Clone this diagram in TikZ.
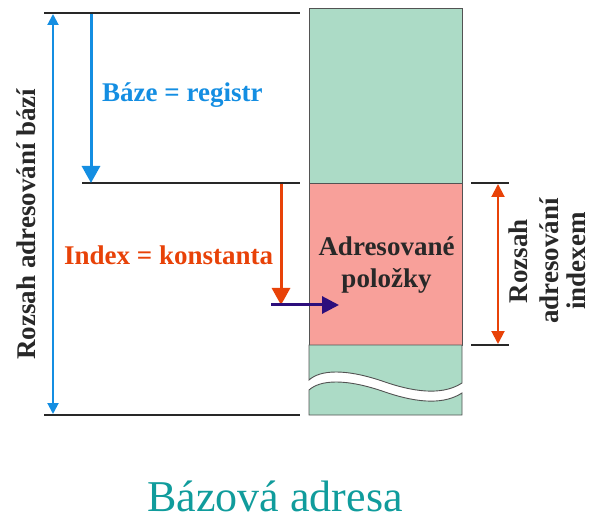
\documentclass[tikz,border=0pt]{standalone}
\usepackage{fontspec}
\setmainfont{Liberation Serif}
\usetikzlibrary{arrows.meta}

\definecolor{memgreen}{RGB}{172,219,198}
\definecolor{mempink}{RGB}{248,160,154}
\definecolor{baseblue}{RGB}{20,142,226}
\definecolor{idxred}{RGB}{232,66,8}
\definecolor{ptrpurple}{RGB}{44,14,124}
\definecolor{rulegray}{RGB}{40,40,40}
\definecolor{titleteal}{RGB}{16,156,156}

\tikzset{
  cell/.style={draw=rulegray!80, line width=0.9pt},
  level/.style={draw=rulegray, line width=2pt},
  bigarrow/.style={line width=3pt, -{Triangle[length=17pt,width=18pt]}},
  spanarrow/.style={line width=2pt, {Triangle[length=11pt,width=11pt]}-{Triangle[length=11pt,width=11pt]}},
  boldtext/.style={font=\fontsize{27}{31}\selectfont\bfseries, inner sep=0pt},
}

\begin{document}
\begin{tikzpicture}[x=1pt,y=-1pt]
\useasboundingbox (0,0) rectangle (597,521);

% memory column: upper green part and addressed (pink) block
\filldraw[cell, fill=memgreen] (309,8) rectangle (462,183);
\filldraw[cell, fill=mempink] (309,183) rectangle (462,345);
% lower green part, cut by a wavy break
\filldraw[cell, fill=memgreen] (309,345) -- (462,345) -- (462,383)
  .. controls (445,394) and (420,394) .. (385,382)
  .. controls (345,368) and (320,370) .. (309,380) -- cycle;
\filldraw[cell, fill=memgreen] (309,390)
  .. controls (320,380) and (345,378) .. (385,392)
  .. controls (420,404) and (445,404) .. (462,393)
  -- (462,415) -- (309,415) -- cycle;

% level lines
\coordinate (topL) at (44,13);   \coordinate (topR) at (300,13);
\coordinate (midL) at (82,183);  \coordinate (midR) at (300,183);
\coordinate (botL) at (44,415);  \coordinate (botR) at (300,415);
\draw[level] (topL) -- (topR);
\draw[level] (midL) -- (midR);
\draw[level] (botL) -- (botR);

% index range ticks on the right
\coordinate (ixTopL) at (471,183); \coordinate (ixTopR) at (509,183);
\coordinate (ixBotL) at (471,345); \coordinate (ixBotR) at (509,345);
\draw[level] (ixTopL) -- (ixTopR);
\draw[level] (ixBotL) -- (ixBotR);

% arrows
\coordinate (spanTop) at (53,14);  \coordinate (spanBot) at (53,414);
\draw[spanarrow, baseblue] (spanTop) -- (spanBot);

\coordinate (baseFrom) at (91,14); \coordinate (baseTo) at (91,183);
\draw[bigarrow, baseblue] (baseFrom) -- (baseTo);

\coordinate (idxFrom) at (281,184); \coordinate (idxTo) at (281,305);
\draw[bigarrow, idxred] (idxFrom) -- (idxTo);

\coordinate (ptrFrom) at (271,305); \coordinate (ptrTo) at (339,305);
\draw[bigarrow, ptrpurple, -{Triangle[length=17pt,width=17pt]}] (ptrFrom) -- (ptrTo);

\coordinate (ixA) at (498,184); \coordinate (ixB) at (498,344);
\draw[spanarrow, idxred, {Triangle[length=13pt,width=13pt]}-{Triangle[length=13pt,width=13pt]}] (ixA) -- (ixB);

% labels
\node[boldtext, text=baseblue, anchor=base west] (baseLbl) at (102,102) {Báze = registr};
\node[boldtext, text=idxred, anchor=base west] (idxLbl) at (64,265) {Index = konstanta};
\node[boldtext, text=rulegray, anchor=base] (itemLbl1) at (386.5,256) {Adresované};
\node[boldtext, text=rulegray, anchor=base] (itemLbl2) at (386.5,288) {položky};
\node[boldtext, text=rulegray, anchor=base, rotate=90] (spanLbl) at (35,224) {Rozsah adresování bází};
\node[boldtext, text=rulegray, anchor=base, rotate=90] (ixLbl1) at (527,261) {Rozsah};
\node[boldtext, text=rulegray, anchor=base, rotate=90] (ixLbl2) at (558,261) {adresování};
\node[boldtext, text=rulegray, anchor=base, rotate=90] (ixLbl3) at (585,261) {indexem};
\node[font=\fontsize{44}{48}\selectfont, text=titleteal, inner sep=0pt, anchor=base] (title) at (275,511) {Bázová adresa};
\end{tikzpicture}
\end{document}
